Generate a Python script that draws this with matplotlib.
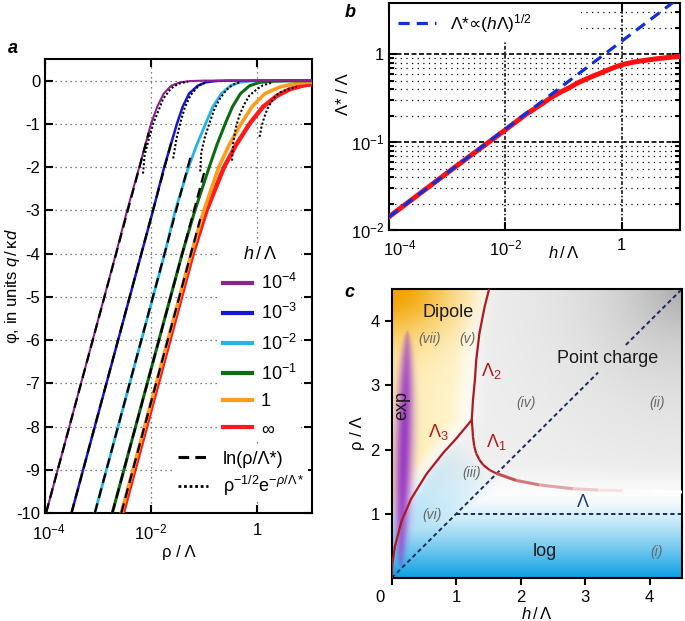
import numpy as np
import matplotlib
matplotlib.use("Agg")
import matplotlib.pyplot as plt
from matplotlib.lines import Line2D
from matplotlib.collections import LineCollection
from matplotlib.patches import Rectangle
from matplotlib.transforms import ScaledTranslation
from matplotlib.colors import to_rgb

plt.rcParams['font.family'] = ['Liberation Sans', 'DejaVu Sans']
plt.rcParams['mathtext.fontset'] = 'custom'
plt.rcParams['mathtext.rm'] = 'Liberation Sans'
plt.rcParams['mathtext.it'] = 'Liberation Sans:italic'
plt.rcParams['mathtext.bf'] = 'Liberation Sans:bold'
plt.rcParams['mathtext.sf'] = 'DejaVu Sans'
plt.rcParams['mathtext.fallback'] = 'stixsans'
plt.rcParams['axes.unicode_minus'] = False
plt.rcParams['font.size'] = 12

# ---------------- panel a : potential vs rho (log10 rho/Lambda, phi) ----------------
h_labels = [r"$10^{-4}$", r"$10^{-3}$", r"$10^{-2}$", r"$10^{-1}$", "1", r"$\infty$"]
curve_colors = ["#8b2390", "#1616d8", "#22b4ec", "#0d6b12", "#ff9c1c", "#ff1a1a"]
curve_widths = [1.5, 1.8, 2.0, 2.2, 2.6, 3.2]

logrho_p = [-3.98, -3.54, -3.10, -2.66, -2.45, -2.22, -2.11, -2.00, -1.88, -1.76, -1.62, -1.45, -1.25, -1.0, 1.04]
phi_p = [-10, -8, -6, -4, -3, -2, -1.5, -1, -0.6, -0.3, -0.12, -0.04, -0.01, 0, 0]
logrho_b = [-3.50, -3.06, -2.62, -2.18, -1.96, -1.75, -1.63, -1.51, -1.40, -1.28, -1.12, -0.97, -0.78, -0.55, 1.04]
phi_b = [-10, -8, -6, -4, -3, -2, -1.5, -1, -0.6, -0.3, -0.12, -0.04, -0.01, 0, 0]
logrho_c = [-3.06, -2.62, -2.18, -1.74, -1.54, -1.29, -1.14, -0.97, -0.83, -0.67, -0.50, -0.33, -0.12, 0.1, 1.04]
phi_c = [-10, -8, -6, -4, -3, -2, -1.5, -1, -0.6, -0.3, -0.12, -0.04, -0.01, 0, 0]
logrho_g = [-2.73, -2.29, -1.85, -1.41, -1.17, -0.90, -0.76, -0.60, -0.46, -0.31, -0.14, 0.05, 0.30, 0.6, 1.04]
phi_g = [-10, -8, -6, -4, -3, -2, -1.5, -1, -0.6, -0.3, -0.12, -0.04, -0.015, -0.006, -0.003]
logrho_o = [-2.56, -2.12, -1.68, -1.24, -1.00, -0.72, -0.53, -0.30, -0.09, 0.15, 0.43, 0.75, 1.04]
phi_o = [-10, -8, -6, -4, -3, -2, -1.5, -1, -0.6, -0.3, -0.15, -0.06, -0.03]
logrho_r = [-2.53, -2.09, -1.65, -1.21, -0.95, -0.62, -0.40, -0.14, 0.12, 0.38, 0.62, 0.85, 1.04]
phi_r = [-10, -8, -6, -4, -3, -2, -1.5, -1, -0.6, -0.35, -0.2, -0.12, -0.08]

# ln(rho/Lambda*) asymptotes (dashed)
dash_logrho = [[-3.98, -2.04], [-3.50, -1.61], [-3.06, -1.25], [-2.73, -0.99], [-2.56, -1.07]]
dash_phi = [[-10, -1.2], [-10, -1.4], [-10, -1.75], [-10, -2.1], [-10, -3.2]]

# rho^-1/2 exp(-rho/Lambda*) asymptotes (dotted)
dot_logrho = [[-2.15, -2.12, -2.04, -1.96, -1.86, -1.77, -1.62, -1.48, -1.30],
              [-1.58, -1.52, -1.44, -1.36, -1.25, -1.10, -0.95],
              [-1.07, -1.05, -0.98, -0.89, -0.80, -0.70, -0.58, -0.45, -0.30],
              [-0.47, -0.45, -0.40, -0.33, -0.24, -0.14, 0.00, 0.11, 0.30],
              [0.05, 0.09, 0.14, 0.20, 0.27, 0.35, 0.42, 0.52, 0.61, 0.75]]
dot_phi = [[-2.15, -1.73, -1.35, -1.0, -0.7, -0.42, -0.18, -0.07, -0.02],
           [-1.8, -1.35, -0.95, -0.62, -0.33, -0.12, -0.03],
           [-2.1, -1.65, -1.3, -0.96, -0.65, -0.42, -0.22, -0.09, -0.03],
           [-1.85, -1.46, -1.1, -0.80, -0.55, -0.34, -0.2, -0.11, -0.04],
           [-1.30, -1.05, -0.84, -0.65, -0.49, -0.36, -0.28, -0.23, -0.19, -0.14]]

# ---------------- panel b : Lambda*/Lambda vs h/Lambda ----------------
hb_log = [-4, -3, -2, -1.78, -1.65, -1.5, -1.35, -1.21, -1.05, -0.9, -0.77, -0.64, -0.5,
          -0.35, -0.2, -0.07, 0.05, 0.2, 0.35, 0.5, 0.62, 0.75, 0.87, 1.0]
lamstar_log = [-1.85, -1.35, -0.86, -0.75, -0.685, -0.62, -0.555, -0.49, -0.43, -0.38, -0.33, -0.29,
               -0.25, -0.21, -0.168, -0.135, -0.112, -0.09, -0.074, -0.06, -0.05, -0.04, -0.032, -0.025]
fit_h = [1e-4, 10.0]
fit_lamstar = [0.0141, 4.46]

# ---------------- panel c : regime diagram ----------------
lam3_h = [0.0, 0.002, 0.01, 0.05, 0.15, 0.30, 0.54, 0.80, 1.00, 1.24]
lam3_rho = [0.0, 0.10, 0.22, 0.49, 0.88, 1.23, 1.62, 1.95, 2.17, 2.46]
lam2_h = [1.24, 1.25, 1.26, 1.29, 1.31, 1.36, 1.44, 1.51]
lam2_rho = [2.46, 2.60, 2.77, 3.08, 3.39, 3.81, 4.22, 4.50]
lam1_h = [1.24, 1.25, 1.26, 1.28, 1.31, 1.36, 1.42, 1.52, 1.62, 1.93, 2.29, 2.81, 3.20, 3.58, 4.0, 4.5]
lam1_rho = [2.46, 2.35, 2.20, 2.05, 1.94, 1.84, 1.76, 1.68, 1.63, 1.52, 1.45, 1.39, 1.37, 1.36, 1.35, 1.34]
diag_h = [0.0, 3.2, np.nan, 3.63, 4.5]
diag_rho = [0.0, 3.2, np.nan, 3.63, 4.5]
lam_h = [1.0, 4.5]
lam_rho = [1.0, 1.0]

fig = plt.figure(figsize=(6.85, 6.21), dpi=100)

# ======================= panel a =======================
axa = fig.add_axes([0.0657, 0.1739, 0.3898, 0.7311])
curves = [(logrho_p, phi_p), (logrho_b, phi_b), (logrho_c, phi_c),
          (logrho_g, phi_g), (logrho_o, phi_o), (logrho_r, phi_r)]
for i in range(5, -1, -1):
    lr, ph = curves[i]
    axa.plot(10.0 ** np.array(lr), ph, color=curve_colors[i], lw=curve_widths[i], zorder=3)
handles = [Line2D([], [], color=c, lw=3) for c in curve_colors]
for lr, ph in zip(dash_logrho, dash_phi):
    axa.plot(10.0 ** np.array(lr), ph, color="black", lw=1.6, ls=(0, (4.5, 2.5)), zorder=4)
for lr, ph in zip(dot_logrho, dot_phi):
    axa.plot(10.0 ** np.array(lr), ph, color="black", lw=1.5, ls=(0, (1, 1)), zorder=4)

axa.set_xscale("log")
axa.set_xlim(1e-4, 10 ** 1.04)
axa.set_ylim(-10, 0.5)
axa.set_xticks([1e-4, 1e-2, 1])
axa.set_xticklabels([r"$10^{-4}$", r"$10^{-2}$", "1"])
axa.xaxis.set_minor_locator(matplotlib.ticker.NullLocator())
axa.set_yticks(range(-10, 1))
axa.set_yticklabels([str(v) for v in range(-10, 1)])
axa.tick_params(direction="in", top=True, right=True, length=6, width=1.5, labelsize=12)
axa.tick_params(axis="x", pad=7)
axa.grid(True, color="#555555", ls=(0, (1, 3)), lw=0.9)
for s in axa.spines.values():
    s.set_linewidth(1.5)
axa.set_xlabel(r"ρ / Λ", fontsize=12, labelpad=2)
axa.set_ylabel(r"φ, in units $q\,/\,$κ$d$", fontsize=12)
axa.yaxis.set_label_coords(-0.088, 0.5)
lab0 = axa.get_xticklabels()[0]
lab0.set_transform(lab0.get_transform() + ScaledTranslation(4 / 100, 0, fig.dpi_scale_trans))

leg1 = axa.legend(handles, h_labels, title=r"$h\,/\,$Λ", loc="upper left",
                  bbox_to_anchor=(0.62, 0.615), frameon=True, framealpha=1, edgecolor="none",
                  handlelength=1.6, handletextpad=0.5, labelspacing=0.55, fontsize=13,
                  title_fontsize=13, borderpad=0.2)
axa.add_artist(leg1)
h_ln = Line2D([], [], color="black", lw=2.2, ls=(0, (3.5, 2)))
h_ex = Line2D([], [], color="black", lw=2.0, ls=(0, (1, 1)))
axa.legend([h_ln, h_ex], ["ln(ρ/Λ*)", r"ρ$^{-1/2}$e$^{-ρ/Λ*}$"], loc="upper left",
           bbox_to_anchor=(0.45, 0.165), frameon=True, framealpha=1, edgecolor="none",
           handlelength=1.7, handletextpad=0.8, labelspacing=0.35, fontsize=13, borderpad=0.2)
fig.text(0.012, 0.915, "a", fontsize=13, fontweight="bold", fontstyle="italic")

# ======================= panel b =======================
axb = fig.add_axes([0.5679, 0.6296, 0.4248, 0.3651])
axb.plot(10.0 ** np.array(hb_log), 10.0 ** np.array(lamstar_log), color="#ff1010", lw=3.6, zorder=3)
axb.plot(fit_h, fit_lamstar, color="#1030e0", lw=2.3, ls=(0, (3.5, 2.2)), zorder=4,
         label=r"Λ*$\mathsf{∝}$($h$Λ)$^{1/2}$")
axb.add_patch(Rectangle((0, 0.835), 0.66, 0.165, transform=axb.transAxes,
                        facecolor="white", edgecolor="none", zorder=1.8))
axb.set_xscale("log")
axb.set_yscale("log")
axb.set_xlim(1e-4, 10)
axb.set_ylim(1e-2, 3.8)
axb.set_xticks([1e-4, 1e-2, 1])
axb.set_xticklabels([r"$10^{-4}$", r"$10^{-2}$", "1"])
axb.xaxis.set_minor_locator(matplotlib.ticker.NullLocator())
axb.set_yticks([1e-2, 1e-1, 1])
axb.set_yticklabels([r"$10^{-2}$", r"$10^{-1}$", "1"])
axb.yaxis.set_minor_locator(matplotlib.ticker.LogLocator(base=10, subs=np.arange(2, 10)))
axb.yaxis.set_minor_formatter(matplotlib.ticker.NullFormatter())
axb.tick_params(which="both", direction="in", top=True, right=True, width=1.5, labelsize=12)
axb.tick_params(which="major", length=6)
axb.tick_params(which="minor", length=3.5)
axb.tick_params(axis="x", pad=6)
axb.grid(True, which="major", axis="y", color="black", ls=(0, (3, 1.5)), lw=1.2)
axb.grid(True, which="major", axis="x", color="black", ls=(0, (2.5, 1.2, 1, 1.2)), lw=1.1)
axb.grid(True, which="minor", axis="y", color="black", ls=(0, (1, 3.5)), lw=0.9)
for s in axb.spines.values():
    s.set_linewidth(1.5)
labb = axb.get_xticklabels()[0]
labb.set_transform(labb.get_transform() + ScaledTranslation(11 / 100, 0, fig.dpi_scale_trans))
axb.set_ylabel("Λ* / Λ", fontsize=12)
axb.yaxis.set_label_coords(-0.13, 0.6)
axb.text(0.6, -0.1, r"$h\,/\,$Λ", transform=axb.transAxes, ha="center", va="center", fontsize=12)
axb.legend(loc="upper left", frameon=False, fontsize=12.5,
           handlelength=2.2, borderpad=0.3, borderaxespad=0.2)
fig.text(0.503, 0.972, "b", fontsize=13, fontweight="bold", fontstyle="italic")

# ======================= panel c =======================
axc = fig.add_axes([0.5718, 0.0692, 0.4238, 0.4654])

# decorative background shading
n = 450
gx = np.linspace(0, 4.5, n)
X, Y = np.meshgrid(gx, gx)
img = np.ones((n, n, 3))

def blend(base, color, alpha):
    a = np.clip(alpha, 0, 1)[..., None]
    return base * (1 - a) + np.array(to_rgb(color)) * a

bound_x = np.where(Y < 2.46, np.interp(Y, lam3_rho, lam3_h), np.interp(Y, lam2_rho, lam2_h))
left = 1 / (1 + np.exp((X - bound_x) / 0.06))
right = 1 - left
# grey point-charge region
dgr = np.sqrt((4.5 - X) ** 2 + (4.5 - Y) ** 2)
grey = (0.08 + 0.45 * np.exp(-dgr / 1.2)) * right / (1 + np.exp(-(Y - 1.5) / 0.12))
img = blend(img, "#8a8a8a", grey * 1.4)
# yellow / orange dipole region
yel = left * (0.35 + 0.4 * np.clip(1 - X / 1.3, 0, 1)) * np.clip((Y - 0.2) / 1.0, 0, 1)
yel *= np.clip((bound_x - X) / 0.35, 0, 1)
img = blend(img, "#ffe690", yel)
dor = np.sqrt((X / 1.1) ** 2 + ((4.5 - Y) / 0.9) ** 2)
img = blend(img, "#f3a200", np.exp(-dor ** 2 * 1.4) * left)
# blue log region and wedge between Lambda3 and the diagonal
blue = np.clip(1 - Y / 1.3, 0, 1) ** 1.3
diag_soft = 1 / (1 + np.exp(-(Y - X + 0.1) / 0.08))
wedge = np.clip(1 - (X + Y) / 3.2, 0, 1) ** 0.8 * 0.45 * right * diag_soft
img = blend(img, "#0a9fe3", np.maximum(blue, wedge))
# purple exp region
env = np.clip(1 - ((Y - 2.0) / 1.85) ** 2, 0, 1)
xc = 0.12 + 0.03 * Y
sx = 0.15 * np.sqrt(env) + 1e-3
purp = np.exp(-((X - xc) / sx) ** 2 * 1.2) * env ** 0.35
img = blend(img, "#9838c4", purp * 0.97)
axc.imshow(img, extent=[0, 4.5, 0, 4.5], origin="lower", aspect="auto", interpolation="bilinear", zorder=0)

axc.plot(diag_h, diag_rho, color="#1b2a5c", lw=1.4, ls=(0, (2.2, 1.6)), zorder=2)
axc.plot(lam_h, lam_rho, color="#1b2a5c", lw=1.4, ls=(0, (2.2, 1.6)), zorder=2)
axc.plot(lam3_h, lam3_rho, color="#b0181c", lw=1.6, zorder=3)
axc.plot(lam2_h, lam2_rho, color="#b0181c", lw=1.6, zorder=3)
pts = np.column_stack([lam1_h, lam1_rho])
segs = np.stack([pts[:-1], pts[1:]], axis=1)
mid = 0.5 * (pts[:-1, 0] + pts[1:, 0])
t = np.clip((mid - 1.55) / 2.3, 0, 1) ** 0.6
red = np.array(to_rgb("#b0181c"))
cols = red * (1 - t[:, None]) + np.ones(3) * t[:, None]
axc.add_collection(LineCollection(segs, colors=cols, lw=np.where(mid < 1.6, 1.6, 2.2), zorder=3))

dark = "#1a1a1a"
grey_t = "#666666"
red_t = "#b0181c"
axc.text(0.88, 4.13, "Dipole", fontsize=13, color=dark, ha="center", va="center")
axc.text(3.35, 3.42, "Point charge", fontsize=13, color=dark, ha="center", va="center")
axc.text(0.155, 2.69, "exp", fontsize=13, color=dark, ha="center", va="center", rotation=90)
axc.text(2.37, 0.41, "log", fontsize=13, color=dark, ha="center", va="center")
axc.text(1.55, 3.22, r"Λ$_2$", fontsize=13, color=red_t, ha="center", va="center")
axc.text(0.72, 2.28, r"Λ$_3$", fontsize=13, color=red_t, ha="center", va="center")
axc.text(1.62, 2.12, r"Λ$_1$", fontsize=13, color=red_t, ha="center", va="center")
axc.text(2.97, 1.18, "Λ", fontsize=13, color="#1b3a7a", ha="center", va="center")
for txt, x, y in [("(vii)", 0.58, 3.72), ("(v)", 1.18, 3.72), ("(iv)", 2.09, 2.72),
                  ("(ii)", 4.12, 2.72), ("(iii)", 1.24, 1.63), ("(vi)", 0.62, 0.98),
                  ("(i)", 4.1, 0.41)]:
    axc.text(x, y, txt, fontsize=10, color=grey_t, style="italic", ha="center", va="center")

axc.set_xlim(0, 4.5)
axc.set_ylim(0, 4.5)
axc.set_xticks([0, 1, 2, 3, 4])
axc.set_yticks([1, 2, 3, 4])
axc.tick_params(direction="out", length=5, width=1.5, labelsize=12)
for s in axc.spines.values():
    s.set_linewidth(1.5)
labc = axc.get_xticklabels()[0]
labc.set_transform(labc.get_transform() + ScaledTranslation(-12 / 100, 0, fig.dpi_scale_trans))
axc.set_xlabel(r"$h\,/\,$Λ", fontsize=12, labelpad=1)
axc.set_ylabel("ρ / Λ", fontsize=12, labelpad=4)
fig.text(0.503, 0.522, "c", fontsize=13, fontweight="bold", fontstyle="italic")

fig.savefig("out.png", dpi=100)
